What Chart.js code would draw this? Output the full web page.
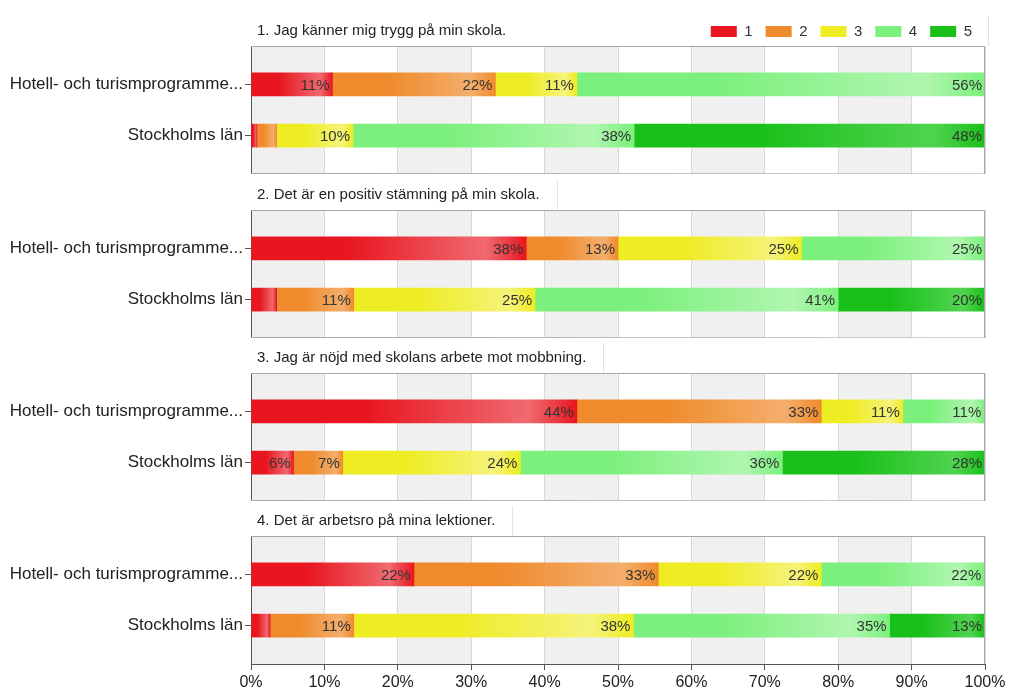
<!DOCTYPE html>
<html>
<head>
<meta charset="utf-8">
<script src="https://cdn.jsdelivr.net/npm/chart.js@4"></script>
<style>
  body { margin: 0; background: #fff; }
  #wrap { position: relative; width: 1024px; height: 700px; overflow: hidden; }
  .panel { position: absolute; left: 0; width: 1024px; }
</style>
</head>
<body>
<div id="wrap"></div>
<script>
// categories and series
const categories = ["Hotell- och turismprogramme...", "Stockholms län"];
const seriesLabels = ["1", "2", "3", "4", "5"];
const questions = [
    "1. Jag känner mig trygg på min skola.",
    "2. Det är en positiv stämning på min skola.",
    "3. Jag är nöjd med skolans arbete mot mobbning.",
    "4. Det är arbetsro på mina lektioner."
];

// percentages per answer 1..5
const q1Hotell = [11.1, 22.2, 11.1, 55.6, 0];
const q1Sthlm  = [0.8, 2.7, 10.4, 38.3, 47.8];
const q2Hotell = [37.5, 12.5, 25, 25, 0];
const q2Sthlm  = [3.5, 10.5, 24.7, 41.3, 20.0];
const q3Hotell = [44.4, 33.3, 11.1, 11.1, 0];
const q3Sthlm  = [5.8, 6.7, 24.2, 35.7, 27.6];
const q4Hotell = [22.2, 33.3, 22.2, 22.2, 0];
const q4Sthlm  = [2.6, 11.4, 38.1, 34.9, 13.0];

const xTicks = [0, 10, 20, 30, 40, 50, 60, 70, 80, 90, 100];

const panels = [
    [q1Hotell, q1Sthlm],
    [q2Hotell, q2Sthlm],
    [q3Hotell, q3Sthlm],
    [q4Hotell, q4Sthlm]
];

const baseColors  = ["#e8161f", "#ef8b2c", "#eeec22", "#7cf07c", "#19c019"];
const lightColors = ["#f06a70", "#f4ae6c", "#f5f37a", "#b0f6b0", "#50d450"];

Chart.defaults.font.family = "'Liberation Sans', Arial, sans-serif";
Chart.defaults.color = "#222";

// panel layout (pixels)
const boxTops = [46, 210, 373, 536];
const boxHeight = 128;
const titleSpace = 36;
const legendPad = 13;
const legendSpace = 15 + legendPad + 10 - 3;

// alternating grey bands behind the bars
const bandsPlugin = {
    id: "bands",
    beforeDraw(chart) {
        const { ctx, chartArea, scales } = chart;
        ctx.save();
        ctx.fillStyle = "#f0f0f0";
        for (let k = 0; k < 10; k += 2) {
            const x0 = scales.x.getPixelForValue(k * 10);
            const x1 = scales.x.getPixelForValue((k + 1) * 10);
            ctx.fillRect(x0, chartArea.top, x1 - x0, chartArea.bottom - chartArea.top);
        }
        ctx.restore();
    }
};

// pull the legend a little closer to the plot
const legendFit = {
    id: "legendFit",
    beforeInit(chart) {
        const legend = chart.legend;
        if (!legend) return;
        const fit = legend.fit;
        legend.fit = function () {
            fit.call(this);
            if (this.height > 0) this.height -= 3;
        };
    }
};

// title above each panel and the grey frame
const framePlugin = {
    id: "frame",
    afterDraw(chart, args, opts) {
        const { ctx, chartArea } = chart;
        ctx.save();
        ctx.strokeStyle = "#a8a8a8";
        ctx.lineWidth = 1;
        ctx.beginPath();
        ctx.moveTo(chartArea.left, chartArea.top + 0.5);
        ctx.lineTo(chartArea.right - 0.5, chartArea.top + 0.5);
        ctx.lineTo(chartArea.right - 0.5, chartArea.bottom);
        if (!opts.last) {
            ctx.lineTo(chartArea.left, chartArea.bottom - 0.5);
        }
        ctx.stroke();

        ctx.font = "15px 'Liberation Sans', Arial, sans-serif";
        ctx.fillStyle = "#222";
        ctx.textBaseline = "middle";
        ctx.textAlign = "left";
        ctx.fillText(opts.text, chartArea.left + 6, chartArea.top - 15);
        const w = ctx.measureText(opts.text).width;
        const lx = opts.first ? chartArea.right + 3.5 : Math.round(chartArea.left + 6 + w + 17) + 0.5;
        ctx.strokeStyle = "#e4e4e4";
        ctx.beginPath();
        ctx.moveTo(lx, chartArea.top - 30);
        ctx.lineTo(lx, chartArea.top);
        ctx.stroke();
        ctx.restore();
    }
};

// percentage labels inside the segments
const valueLabels = {
    id: "valueLabels",
    afterDatasetsDraw(chart) {
        const { ctx } = chart;
        ctx.save();
        ctx.font = "15px 'Liberation Sans', Arial, sans-serif";
        ctx.fillStyle = "#333";
        ctx.textAlign = "right";
        ctx.textBaseline = "middle";
        chart.data.datasets.forEach((ds, di) => {
            const meta = chart.getDatasetMeta(di);
            meta.data.forEach((el, i) => {
                const v = ds.data[i].x;
                if (v >= 5) {
                    ctx.fillText(Math.round(v) + "%", el.x - 3, el.y + 1);
                }
            });
        });
        ctx.restore();
    }
};

function segmentColor(rows, s) {
    return function (context) {
        if (context.type !== "data") return baseColors[s];
        const chart = context.chart;
        const xs = chart.scales.x;
        if (!xs || !chart.chartArea) return baseColors[s];
        const row = rows[context.dataIndex];
        let start = 0;
        for (let j = 0; j < s; j++) start += row[j];
        const x0 = xs.getPixelForValue(start);
        const x1 = xs.getPixelForValue(start + row[s]);
        const g = chart.ctx.createLinearGradient(x0, 0, Math.max(x1, x0 + 1), 0);
        g.addColorStop(0, baseColors[s]);
        g.addColorStop(0.35, baseColors[s]);
        g.addColorStop(0.85, lightColors[s]);
        g.addColorStop(1, baseColors[s]);
        return g;
    };
}

const wrap = document.getElementById("wrap");

panels.forEach((rows, p) => {
    const first = p === 0;
    const last = p === panels.length - 1;
    const top = first ? boxTops[p] - legendSpace : boxTops[p] - titleSpace;
    const height = (first ? legendSpace : titleSpace) + boxHeight + (last ? 36 : 0);

    const div = document.createElement("div");
    div.className = "panel";
    div.style.top = top + "px";
    div.style.height = height + "px";
    const canvas = document.createElement("canvas");
    div.appendChild(canvas);
    wrap.appendChild(div);

    const datasets = seriesLabels.map((label, s) => ({
        label: label,
        data: rows.map((row, i) => ({ x: row[s], y: i })),
        backgroundColor: segmentColor(rows, s),
        borderWidth: 0,
        barThickness: 23
    }));

    new Chart(canvas, {
        type: "bar",
        data: { datasets: datasets },
        options: {
            indexAxis: "y",
            responsive: true,
            maintainAspectRatio: false,
            animation: false,
            layout: {
                padding: { top: first ? 0 : titleSpace, right: 39, left: 0, bottom: 0 }
            },
            scales: {
                x: {
                    type: "linear",
                    stacked: true,
                    min: 0,
                    max: 100,
                    afterBuildTicks: scale => { scale.ticks = xTicks.map(v => ({ value: v })); },
                    afterFit: scale => { scale.height = last ? 36 : 0; },
                    grid: { color: "#d8d8d8", drawTicks: last, tickLength: 6, tickColor: "#555" },
                    border: { display: last, color: "#555" },
                    ticks: {
                        display: last,
                        callback: v => v + "%",
                        font: { size: 16 },
                        color: "#222",
                        padding: 3,
                        maxRotation: 0
                    }
                },
                y: {
                    type: "linear",
                    stacked: true,
                    reverse: true,
                    offset: false,
                    min: -0.75,
                    max: 1.75,
                    afterBuildTicks: scale => { scale.ticks = [{ value: 0 }, { value: 1 }]; },
                    afterFit: scale => {
                        scale.width = 251;
                        scale.paddingTop = 0;
                        scale.paddingBottom = 0;
                    },
                    grid: { offset: false, drawOnChartArea: false, drawTicks: true, tickLength: 6, tickColor: "#555" },
                    border: { display: true, color: "#555" },
                    ticks: {
                        callback: v => categories[v],
                        font: { size: 17 },
                        color: "#222",
                        padding: 2
                    }
                }
            },
            plugins: {
                legend: {
                    display: first,
                    position: "top",
                    align: "end",
                    labels: {
                        boxWidth: 26,
                        boxHeight: 11,
                        padding: legendPad,
                        font: { size: 15 },
                        color: "#333",
                        generateLabels: () => seriesLabels.map((t, s) => ({
                            text: t,
                            fillStyle: baseColors[s],
                            strokeStyle: baseColors[s],
                            lineWidth: 0,
                            fontColor: "#333",
                            datasetIndex: s
                        }))
                    }
                },
                tooltip: { enabled: false },
                frame: { text: questions[p], first: first, last: last }
            }
        },
        plugins: [legendFit, bandsPlugin, framePlugin, valueLabels]
    });
});
</script>
</body>
</html>
